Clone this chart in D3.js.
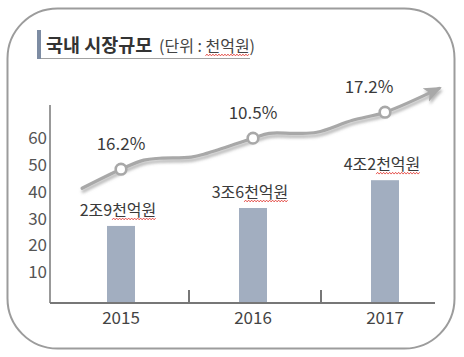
<!DOCTYPE html>
<html><head><meta charset="utf-8">
<script src="https://cdn.jsdelivr.net/npm/d3@7"></script>
<style>
html,body{margin:0;padding:0;background:#fff;}
svg{display:block;font-family:"Noto Sans CJK KR","Noto Sans",sans-serif;}
</style></head>
<body><svg id="c" width="464" height="357"></svg>
<script>
// ---- data ----
const years = ["2015", "2016", "2017"];
const marketLabels = ["2조9천억원", "3조6천억원", "4조2천억원"];
const barValues = [28.8, 35.5, 45.9];
const growthLabels = ["16.2%", "10.5%", "17.2%"];
const growthPointValues = [50, 61.6, 71.3];
const yTicks = [10, 20, 30, 40, 50, 60];
// decorative trend curve: [category index, value]
const trendIdx = [-0.295, 0, 0.173, 0.295, 0.532, 0.655, 1, 1.123, 1.32, 1.484, 1.754, 2, 2.41];
const trendVal = [42.9, 50, 53.4, 54.1, 54.5, 56.0, 61.6, 63.4, 63.4, 63.8, 68.3, 71.3, 80.2];
const titleMain = "국내 시장규모";
const titleUnit = "(단위 : 천억원)";

// ---- layout ----
const svg = d3.select("#c");
const axisX0 = 50, axisX1 = 435, axisY = 303, axisTop = 105;

const defs = svg.append("defs");
const f = defs.append("filter").attr("id","sh").attr("x","-10%").attr("y","-30%").attr("width","130%").attr("height","180%");
f.append("feDropShadow").attr("dx",1).attr("dy",3).attr("stdDeviation",1.6)
  .attr("flood-color","#777").attr("flood-opacity",0.55);
defs.append("marker").attr("id","arr").attr("viewBox","0 0 12 10")
  .attr("refX",10).attr("refY",5).attr("markerWidth",5.6).attr("markerHeight",4.8)
  .attr("orient","auto").attr("markerUnits","strokeWidth")
  .append("path").attr("d","M0,0 L12,5 L0,10 L3,5 Z").attr("fill","#a8a8a8");

// border
svg.append("rect").attr("x",7.5).attr("y",8.5).attr("width",447).attr("height",340)
  .attr("rx",50).attr("ry",50).attr("fill","#fff").attr("stroke","#9c9c9c").attr("stroke-width",2);

// title
svg.append("rect").attr("x",37).attr("y",30).attr("width",4).attr("height",29).attr("fill","#7d8ca3");
svg.append("line").attr("x1",41).attr("x2",250).attr("y1",58.5).attr("y2",58.5)
  .attr("stroke","#a0a0a0").attr("stroke-width",1);
const tMain = svg.append("text").attr("x",46).attr("y",52).attr("font-size",18.5)
  .attr("font-weight","bold").attr("fill","#333").text(titleMain);
const tUnit = svg.append("text").attr("x",159).attr("y",52).attr("font-size",16)
  .attr("fill","#444").text(titleUnit);

function wavy(textSel, startChar, endChar, yOff){
  const n = textSel.node();
  const xs = n.getStartPositionOfChar(startChar).x;
  const xe = n.getEndPositionOfChar(endChar).x;
  const yb = +textSel.attr("y") + yOff;
  const pts = [];
  for (let x = xs, k = 0; x <= xe; x += 1.5, k++) pts.push([x, yb + (k % 2 ? -0.9 : 0.9)]);
  svg.append("path").attr("d", d3.line()(pts)).attr("fill","none")
    .attr("stroke","#e0302a").attr("stroke-width",0.8);
}
wavy(tUnit, 6, 8, 3);

// scales
const x = d3.scaleBand().domain(years).range([55, 451]).paddingInner(0).paddingOuter(0);
const y = d3.scaleLinear().domain([0, 74]).range([axisY, axisTop]);
const xi = d3.scaleLinear().domain([0, 2]).range([x(years[0]) + x.bandwidth()/2, x(years[2]) + x.bandwidth()/2]);
const barW = 28;

// bars
svg.append("g").selectAll("rect").data(barValues).join("rect")
  .attr("x",(d,i)=>x(years[i]) + x.bandwidth()/2 - barW/2)
  .attr("y",d=>y(d)).attr("width",barW).attr("height",d=>axisY - y(d))
  .attr("fill","#a2aec0");

// bar labels
const bl = svg.append("g").selectAll("text").data(marketLabels).join("text")
  .attr("x",(d,i)=>x(years[i]) + x.bandwidth()/2 - 3)
  .attr("y",(d,i)=>y(barValues[i]) - 10)
  .attr("text-anchor","middle").attr("font-size",16).attr("fill","#3a3a3a").text(d=>d);
bl.each(function(){ wavy(d3.select(this), 3, 5, 3); });

// axes
svg.append("line").attr("x1",axisX0).attr("x2",axisX0).attr("y1",axisTop).attr("y2",axisY)
  .attr("stroke","#777").attr("stroke-width",1.5);
svg.append("line").attr("x1",axisX0).attr("x2",axisX1).attr("y1",axisY).attr("y2",axisY)
  .attr("stroke","#777").attr("stroke-width",2);
svg.append("g").selectAll("line").data(years.slice(1)).join("line")
  .attr("x1",d=>x(d)+2).attr("x2",d=>x(d)+2).attr("y1",axisY-13).attr("y2",axisY)
  .attr("stroke","#777").attr("stroke-width",2);

const yAx = svg.append("g").attr("transform",`translate(${axisX0},0)`)
  .call(d3.axisLeft(y).tickValues(yTicks).tickSize(0).tickPadding(3));
yAx.select(".domain").remove();
yAx.selectAll("text").attr("y",-4).attr("font-size",17).attr("fill","#555")
  .attr("font-family","'Noto Sans CJK KR','Noto Sans',sans-serif");

const xAx = svg.append("g").attr("transform",`translate(0,${axisY})`)
  .call(d3.axisBottom(x).tickSize(0));
xAx.select(".domain").remove();
xAx.selectAll("text").attr("y",21).attr("dy",0).attr("font-size",17).attr("fill","#444")
  .attr("font-family","'Noto Sans CJK KR','Noto Sans',sans-serif");

// trend line
const pts = trendIdx.map((t,i)=>[xi(t), y(trendVal[i])]);
svg.append("path").attr("d", d3.line().curve(d3.curveCatmullRom.alpha(0.5))(pts))
  .attr("fill","none").attr("stroke","#a8a8a8").attr("stroke-width",3.2)
  .attr("stroke-linecap","round").attr("filter","url(#sh)").attr("marker-end","url(#arr)");

// growth points
svg.append("g").selectAll("circle").data(growthPointValues).join("circle")
  .attr("cx",(d,i)=>xi(i)).attr("cy",d=>y(d)).attr("r",5.3)
  .attr("fill","#fff").attr("stroke","#a8a8a8").attr("stroke-width",2.6);
svg.append("g").selectAll("text").data(growthLabels).join("text")
  .attr("x",(d,i)=>xi(i) + (i===2 ? -16 : 0))
  .attr("y",(d,i)=>y(growthPointValues[i]) - 19)
  .attr("text-anchor","middle").attr("font-size",17).attr("fill","#3a3a3a").text(d=>d);
</script></body></html>
